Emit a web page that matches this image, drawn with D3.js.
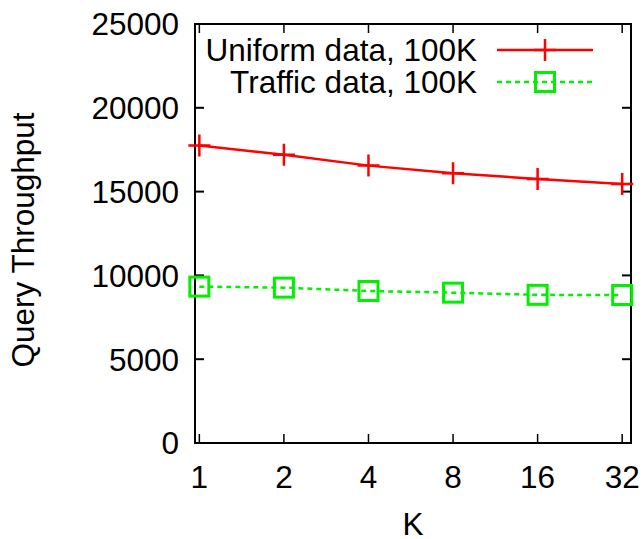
<!DOCTYPE html>
<html>
<head>
<meta charset="utf-8">
<script src="https://cdn.jsdelivr.net/npm/d3@7"></script>
<style>
  body { margin: 0; background: #fff; }
  text { font-family: "Liberation Sans", Arial, sans-serif; fill: #000; }
</style>
</head>
<body>
<div class="canvas"></div>
<script>
// data
const kValues = [1, 2, 4, 8, 16, 32]
const uniform = [17750, 17200, 16550, 16100, 15750, 15450]
const traffic = [9330, 9270, 9070, 8970, 8840, 8830]
const seriesNames = ["Uniform data, 100K", "Traffic data, 100K"]
const yTicks = [0, 5000, 10000, 15000, 20000, 25000]

const width = 643
const height = 539
const plotLeft = 195, plotRight = 631, plotTop = 24, plotBottom = 443

const svg = d3.select(".canvas").append("svg")
    .attr("width", width)
    .attr("height", height)

const x = d3.scaleLog().base(2)
    .domain([0.965, 34.4])
    .range([plotLeft, plotRight])

const y = d3.scaleLinear()
    .domain([0, 25000])
    .range([plotBottom, plotTop])

const fs = 31.5
const green = "#00f000"

// ticks (inward, mirrored)
const tickLen = 9
svg.append("g").selectAll("line")
    .data(yTicks.slice(1, -1))
    .join("line")
    .attr("x1", plotLeft).attr("x2", plotLeft + tickLen)
    .attr("y1", d => y(d)).attr("y2", d => y(d))
    .attr("stroke", "#000").attr("stroke-width", 2)
svg.append("g").selectAll("line")
    .data(yTicks.slice(1, -1))
    .join("line")
    .attr("x1", plotRight).attr("x2", plotRight - tickLen)
    .attr("y1", d => y(d)).attr("y2", d => y(d))
    .attr("stroke", "#000").attr("stroke-width", 2)
svg.append("g").selectAll("line")
    .data(kValues)
    .join("line")
    .attr("x1", d => x(d)).attr("x2", d => x(d))
    .attr("y1", plotBottom).attr("y2", plotBottom - tickLen)
    .attr("stroke", "#000").attr("stroke-width", 1.5)
svg.append("g").selectAll("line")
    .data(kValues)
    .join("line")
    .attr("x1", d => x(d)).attr("x2", d => x(d))
    .attr("y1", plotTop).attr("y2", plotTop + tickLen)
    .attr("stroke", "#000").attr("stroke-width", 1.5)

// frame
svg.append("rect")
    .attr("x", plotLeft).attr("y", plotTop)
    .attr("width", plotRight - plotLeft).attr("height", plotBottom - plotTop)
    .attr("fill", "none").attr("stroke", "#000").attr("stroke-width", 2)

// tick labels
svg.append("g").selectAll("text")
    .data(yTicks)
    .join("text")
    .attr("x", plotLeft - 16)
    .attr("y", d => y(d))
    .attr("dy", "0.36em")
    .attr("text-anchor", "end")
    .attr("font-size", fs)
    .text(d => d)

svg.append("g").selectAll("text")
    .data(kValues)
    .join("text")
    .attr("x", d => x(d))
    .attr("y", 488)
    .attr("text-anchor", "middle")
    .attr("font-size", fs)
    .text(d => d)

// axis titles
svg.append("text")
    .attr("x", 413).attr("y", 535)
    .attr("text-anchor", "middle")
    .attr("font-size", fs)
    .text("K")

svg.append("text")
    .attr("transform", "translate(34,240) rotate(-90)")
    .attr("text-anchor", "middle")
    .attr("font-size", fs)
    .text("Query Throughput")

const line = d3.line()
    .x((d, i) => x(kValues[i]))
    .y(d => y(d))

function plus(g, cx, cy, color) {
    g.append("path")
        .attr("d", `M${cx - 11},${cy}H${cx + 11}M${cx},${cy - 11}V${cy + 11}`)
        .attr("stroke", color).attr("stroke-width", 2.5).attr("fill", "none")
}
function square(g, cx, cy, color) {
    g.append("rect")
        .attr("x", cx - 9.5).attr("y", cy - 9.5)
        .attr("width", 19).attr("height", 19)
        .attr("fill", "none").attr("stroke", color).attr("stroke-width", 3)
}

// uniform series
svg.append("path")
    .datum(uniform)
    .attr("d", line)
    .attr("fill", "none").attr("stroke", "#ff0000").attr("stroke-width", 2.5)
const g1 = svg.append("g")
uniform.forEach((v, i) => plus(g1, x(kValues[i]), y(v), "#ff0000"))

// traffic series
svg.append("path")
    .datum(traffic)
    .attr("d", line)
    .attr("fill", "none").attr("stroke", green).attr("stroke-width", 2.5)
    .attr("stroke-dasharray", "5,4")
const g2 = svg.append("g")
traffic.forEach((v, i) => square(g2, x(kValues[i]), y(v), green))

// legend
const legY = [50, 82]
seriesNames.forEach((name, i) => {
    svg.append("text")
        .attr("x", 477).attr("y", legY[i])
        .attr("dy", "0.36em")
        .attr("text-anchor", "end")
        .attr("font-size", fs)
        .text(name)
})
svg.append("line")
    .attr("x1", 497).attr("x2", 593).attr("y1", legY[0]).attr("y2", legY[0])
    .attr("stroke", "#ff0000").attr("stroke-width", 2.5)
plus(svg, 545, legY[0], "#ff0000")
svg.append("line")
    .attr("x1", 497).attr("x2", 593).attr("y1", legY[1]).attr("y2", legY[1])
    .attr("stroke", green).attr("stroke-width", 2.5)
    .attr("stroke-dasharray", "5,4")
square(svg, 545, legY[1], green)
</script>
</body>
</html>
